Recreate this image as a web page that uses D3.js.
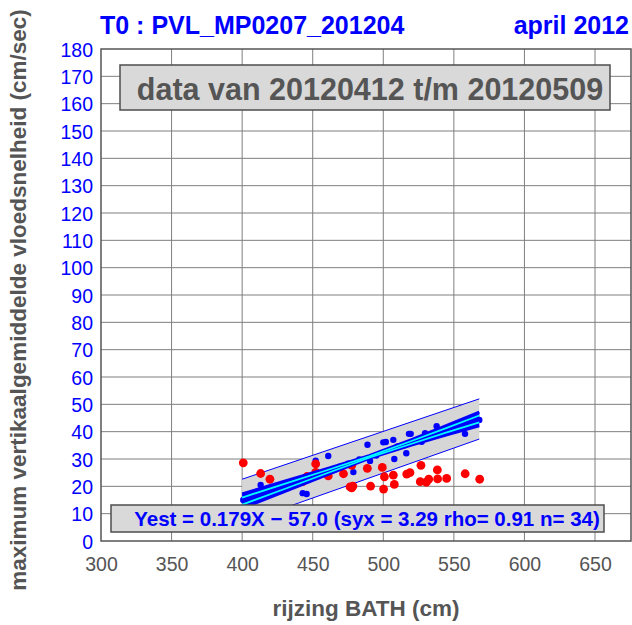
<!DOCTYPE html>
<html>
<head>
<meta charset="utf-8">
<script src="https://cdn.jsdelivr.net/npm/d3@7"></script>
<style>
  body { margin: 0; background: #fff; }
  svg text { font-family: Arial, "Liberation Sans", sans-serif; }
</style>
</head>
<body>
<svg id="chart" width="632" height="625"></svg>
<script>
// ---- data ----
var titleLeft = "T0 : PVL_MP0207_201204";
var titleRight = "april 2012";
var periodText = "data van 20120412 t/m 20120509";
var statsText = "Yest = 0.179X \u2212 57.0 (syx = 3.29 rho= 0.91 n= 34)";
var xTitle = "rijzing BATH (cm)";
var yTitle = "maximum vertikaalgemiddelde vloedsnelheid (cm/sec)";

var xTicks = [300, 350, 400, 450, 500, 550, 600, 650];
var yTicks = [0, 10, 20, 30, 40, 50, 60, 70, 80, 90, 100, 110, 120, 130, 140, 150, 160, 170, 180];

// points used in the fit (blue)
var blueX = [400.8, 413.1, 430, 442.9, 445.7, 452.1, 455, 461.0, 465, 470, 475, 478.8, 483, 488.8, 490.6, 495,
             500.0, 501.8, 507.1, 507.8, 510, 515, 516.3, 518.2, 519.4, 523, 527.2, 529.6, 535, 537.8, 545, 557.9, 560, 568.0];
var blueY = [15.0, 20.5, 20.3, 17.5, 17.2, 29.4, 24.8, 31.1, 26.0, 27.4, 28.3, 25.2, 29.8, 35.2, 29.3, 31.3,
             36.1, 36.2, 37.0, 30.0, 34.6, 35.0, 32.1, 39.2, 39.2, 36.4, 36.3, 39.4, 38.6, 42.0, 40.8, 39.2, 43.4, 44.3];

// points not in the fit (red)
var redX = [400.8, 413.1, 419.7, 442.9, 446.0, 452.1, 452.1, 461.0, 471.8, 477.7, 476.5, 477.6, 478.5, 488.7, 491.0,
            499.3, 500.8, 500.2, 507.1, 507.8, 516.6, 518.9, 526.7, 526.2, 530.5, 532.2, 538.3, 538.5, 544.9, 558.0, 568.3];
var redY = [28.6, 24.7, 22.6, 21.7, 23.6, 28.2, 25.1, 23.8, 24.6, 27.7, 19.8, 19.4, 20.1, 26.6, 20.1,
            26.9, 23.5, 19.0, 24.1, 20.7, 24.5, 25.0, 27.7, 21.7, 21.5, 22.6, 26.0, 22.7, 22.9, 24.6, 22.6];

// regression line and bands
var regSlope = 0.179, regIntercept = -57.0;
var bandX = [400, 568];
var bandUpper = [22.6, 52.0];
var bandLower = [6.6, 37.3];
var confX = [400, 430, 460, 490, 520, 545, 568];
var confHalf = [2.6, 1.9, 1.1, 0.5, 1.0, 1.7, 2.5];

// ---- layout ----
var svg = d3.select("#chart");
var margin = {left: 101, right: 1, top: 49, bottom: 84};
var width = 632 - margin.left - margin.right,
    height = 625 - margin.top - margin.bottom;

var x = d3.scaleLinear().domain([300, 675.5]).range([margin.left, margin.left + width]);
var y = d3.scaleLinear().domain([0, 180]).range([margin.top + height, margin.top]);

var grey = "#555555";

// gridlines
var grid = svg.append("g").attr("class", "grid");
grid.selectAll(".vg").data(xTicks.slice(1)).enter().append("line")
  .attr("x1", function(d) { return x(d); }).attr("x2", function(d) { return x(d); })
  .attr("y1", y(0)).attr("y2", y(180))
  .attr("stroke", "#7f7f7f").attr("stroke-width", 1);
grid.selectAll(".hg").data(yTicks.slice(1, -1)).enter().append("line")
  .attr("x1", x(300)).attr("x2", x(675.5))
  .attr("y1", function(d) { return y(d); }).attr("y2", function(d) { return y(d); })
  .attr("stroke", "#7f7f7f").attr("stroke-width", 1);

// prediction band
var band = bandX.map(function(d, i) { return {x: d, lo: bandLower[i], hi: bandUpper[i]}; });
svg.append("path")
  .datum(band)
  .attr("fill", "#d6d6d6")
  .attr("d", d3.area().x(function(d) { return x(d.x); })
    .y0(function(d) { return y(d.lo); }).y1(function(d) { return y(d.hi); }));
["lo", "hi"].forEach(function(k) {
  svg.append("path").datum(band)
    .attr("fill", "none").attr("stroke", "#0000ff").attr("stroke-width", 1)
    .attr("d", d3.line().x(function(d) { return x(d.x); }).y(function(d) { return y(d[k]); }));
});

// points
svg.append("g").selectAll("circle").data(d3.range(blueX.length)).enter().append("circle")
  .attr("cx", function(i) { return x(blueX[i]); })
  .attr("cy", function(i) { return y(blueY[i]); })
  .attr("r", 3.2).attr("fill", "#0000ff");
svg.append("g").selectAll("circle").data(d3.range(redX.length)).enter().append("circle")
  .attr("cx", function(i) { return x(redX[i]); })
  .attr("cy", function(i) { return y(redY[i]); })
  .attr("r", 4.4).attr("fill", "#ff0000");

// regression line with confidence lines
var conf = confX.map(function(d, i) {
  var m = regSlope * d + regIntercept;
  return {x: d, m: m, h: confHalf[i]};
});
svg.append("path").datum(conf)
  .attr("fill", "#0000ff")
  .attr("d", d3.area().x(function(d) { return x(d.x); })
    .y0(function(d) { return y(d.m - d.h); }).y1(function(d) { return y(d.m + d.h); }));
[-1, 1].forEach(function(s) {
  svg.append("path").datum(conf)
    .attr("fill", "none").attr("stroke", "#0000ff").attr("stroke-width", 3)
    .attr("d", d3.line().x(function(d) { return x(d.x); }).y(function(d) { return y(d.m + s * d.h); }));
});
svg.append("path").datum(conf)
  .attr("fill", "none").attr("stroke", "#0000ff").attr("stroke-width", 4)
  .attr("d", d3.line().x(function(d) { return x(d.x); }).y(function(d) { return y(d.m); }));
[-1, 1].forEach(function(s) {
  svg.append("path").datum(conf)
    .attr("fill", "none").attr("stroke", "#00ffff").attr("stroke-width", 1.8)
    .attr("d", d3.line().x(function(d) { return x(d.x); }).y(function(d) { return y(d.m + s * d.h * 0.5); }));
});

// frame
svg.append("rect")
  .attr("x", x(300)).attr("y", y(180))
  .attr("width", x(675.5) - x(300)).attr("height", y(0) - y(180))
  .attr("fill", "none").attr("stroke", grey).attr("stroke-width", 1.5);

// axes
var yAxis = svg.append("g")
  .attr("transform", "translate(" + margin.left + ",0)")
  .call(d3.axisLeft(y).tickValues(yTicks).tickSize(0).tickPadding(8));
yAxis.select(".domain").remove();
yAxis.selectAll("text").attr("fill", "#0000ff").style("font-size", "19.5px").attr("dy", "0.36em");

var xAxis = svg.append("g")
  .attr("transform", "translate(0," + (margin.top + height) + ")")
  .call(d3.axisBottom(x).tickValues(xTicks).tickSize(0).tickPadding(16));
xAxis.select(".domain").remove();
xAxis.selectAll("text").attr("fill", grey).style("font-size", "19.5px");

// titles
svg.append("text").attr("x", 100).attr("y", 34)
  .attr("fill", "#0000ff").style("font-size", "25px").style("font-weight", "bold")
  .text(titleLeft);
svg.append("text").attr("x", 629).attr("y", 34).attr("text-anchor", "end")
  .attr("fill", "#0000ff").style("font-size", "25px").style("font-weight", "bold")
  .text(titleRight);

svg.append("text").attr("x", 366).attr("y", 616).attr("text-anchor", "middle")
  .attr("fill", grey).style("font-size", "22.5px").style("font-weight", "bold")
  .text(xTitle);
svg.append("text")
  .attr("transform", "translate(26,300) rotate(-90)")
  .attr("text-anchor", "middle")
  .attr("fill", grey).style("font-size", "22.5px").style("font-weight", "bold")
  .text(yTitle);

// period box
svg.append("rect").attr("x", 120).attr("y", 65).attr("width", 490).attr("height", 45)
  .attr("fill", "#d9d9d9").attr("stroke", "#4d4d4d").attr("stroke-width", 1.5);
svg.append("text").attr("x", 370).attr("y", 100).attr("text-anchor", "middle")
  .attr("fill", grey).style("font-size", "30.5px").style("font-weight", "bold")
  .text(periodText);

// stats box
svg.append("rect").attr("x", 111).attr("y", 505).attr("width", 493).attr("height", 27)
  .attr("fill", "#d9d9d9").attr("stroke", "#4d4d4d").attr("stroke-width", 1.5);
svg.append("text").attr("x", 367).attr("y", 526).attr("text-anchor", "middle")
  .attr("fill", "#0000ff").style("font-size", "20.5px").style("font-weight", "bold")
  .text(statsText);
</script>
</body>
</html>
